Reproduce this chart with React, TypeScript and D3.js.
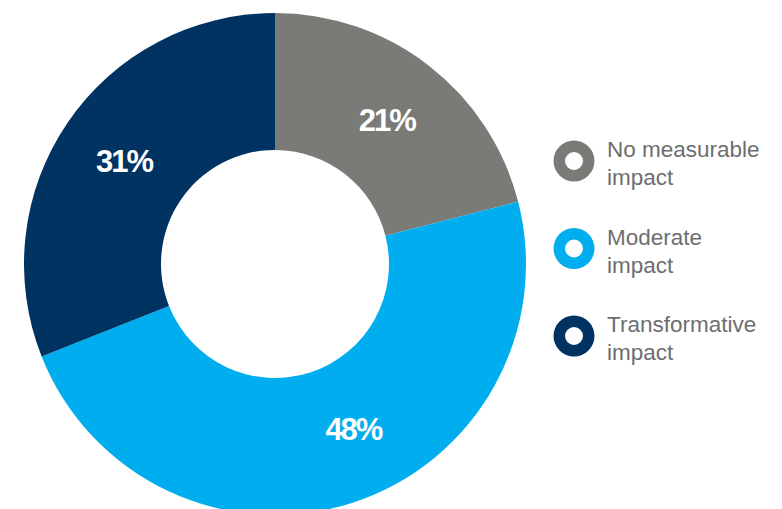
import React from "react";
import * as d3 from "d3";

// Share of respondents by reported impact
const categories = ["No measurable impact", "Moderate impact", "Transformative impact"];
const values = [21, 48, 31];
const legendLines = [
  ["No measurable", "impact"],
  ["Moderate", "impact"],
  ["Transformative", "impact"],
];
const colors = ["#7a7b77", "#00adee", "#003262"];
// angular nudge (radians) applied to each value label
const labelNudge = [0, -0.13, 0];

const W = 782;
const H = 509;

export default function App() {
  const cx = 275;
  const cy = 264;
  const outerR = 251;
  const innerR = 114;

  const pie = d3
    .pie<number>()
    .sort(null)
    .value((d) => d)
    .startAngle(0)
    .endAngle(2 * Math.PI);
  const arcs = pie(values);
  const arc = d3.arc<d3.PieArcDatum<number>>().innerRadius(innerR).outerRadius(outerR);
  const midR = (innerR + outerR) / 2;

  const legendArc = d3.arc().innerRadius(9).outerRadius(20.5).startAngle(0).endAngle(2 * Math.PI);
  const legendY = d3.scalePoint<number>().domain([0, 1, 2]).range([161, 336]);

  return (
    <svg
      width={W}
      height={H}
      style={{ position: "absolute", left: 0, top: 0, background: "#fff" }}
      fontFamily="'Liberation Sans', Arial, Helvetica, sans-serif"
    >
      <g transform={`translate(${cx},${cy})`}>
        {arcs.map((a, i) => (
          <path key={categories[i]} d={arc(a) as string} fill={colors[i]} />
        ))}
        {arcs.map((a, i) => {
          const ang = (a.startAngle + a.endAngle) / 2 + labelNudge[i];
          const x = midR * Math.sin(ang);
          const y = -midR * Math.cos(ang);
          return (
            <text
              key={"l" + i}
              x={x}
              y={y + 11}
              textAnchor="middle"
              fill="#fff"
              fontWeight="bold"
              fontSize={31}
              letterSpacing={-2}
            >
              {a.data}%
            </text>
          );
        })}
      </g>
      <g>
        {categories.map((c, i) => {
          const y = legendY(i) as number;
          return (
            <g key={c} transform={`translate(574,${y})`}>
              <path d={legendArc({} as any) as string} fill={colors[i]} />
              <text x={33} y={-4} fontSize={22.5} fill="#6d6e71">
                <tspan x={33}>{legendLines[i][0]}</tspan>
                <tspan x={33} dy={28}>
                  {legendLines[i][1]}
                </tspan>
              </text>
            </g>
          );
        })}
      </g>
    </svg>
  );
}
